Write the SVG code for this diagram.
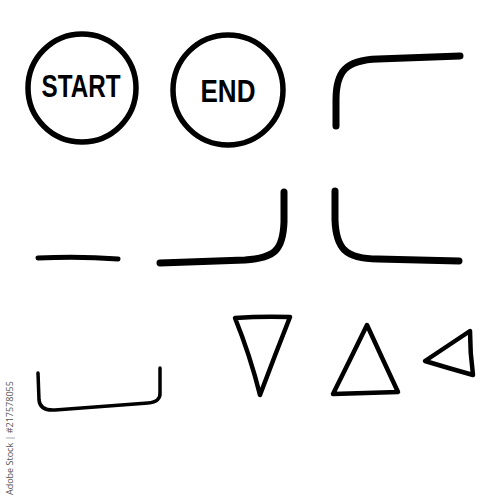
<svg xmlns="http://www.w3.org/2000/svg" width="500" height="500" viewBox="0 0 500 500">
<style>
.s{fill:none;stroke:#000;stroke-linecap:round;stroke-linejoin:round}
.t{font-family:"Liberation Sans",Arial,sans-serif;font-weight:bold;font-size:31px;fill:#000;text-anchor:middle}
.w{font-family:"Open Sans","Liberation Sans",sans-serif;font-size:9px;fill:#555}
</style>
<rect width="500" height="500" fill="#fff"/>
<g id="start">
<circle class="s" cx="82" cy="88" r="54" stroke-width="5.5"/>
<text class="t" x="81" y="97" textLength="79" lengthAdjust="spacingAndGlyphs">START</text>
</g>
<g id="end">
<circle class="s" cx="228" cy="90" r="55" stroke-width="5.5"/>
<text class="t" x="228" y="102" textLength="55" lengthAdjust="spacingAndGlyphs">END</text>
</g>
<g id="connectors">
<path class="s" stroke-width="7" d="M336,126 L336,100 C336,72 345,60 378,59 L460,56"/>
<path class="s" stroke-width="7" d="M335,191 L335,220 C336,248 345,259 378,259 L459,261"/>
<path class="s" stroke-width="5" d="M38,258 Q80,256 118,259"/>
<path class="s" stroke-width="7" d="M160,263 L245,260 C275,258 283,250 284,222 L284,192"/>
<path class="s" stroke-width="3.5" d="M38,373 L39,400 Q40,411 55,410 L148,403 Q161,402 160,392 L160,368"/>
</g>
<g id="triangle-down"><path class="s" stroke-width="4.5" d="M235,318 Q262,316 290,317 Q275,355 260,395 Q250,355 235,318 Z"/></g>
<g id="triangle-up"><path class="s" stroke-width="4.5" d="M367,325 Q383,360 398,392 L333,394 Q350,360 367,325 Z"/></g>
<g id="triangle-left"><path class="s" stroke-width="4.5" d="M425,361 L470,331 Q470,353 473,375 Q448,368 425,361 Z"/></g>
<text class="w" transform="translate(13,495) rotate(-90)">Adobe Stock | #217578055</text>
</svg>
